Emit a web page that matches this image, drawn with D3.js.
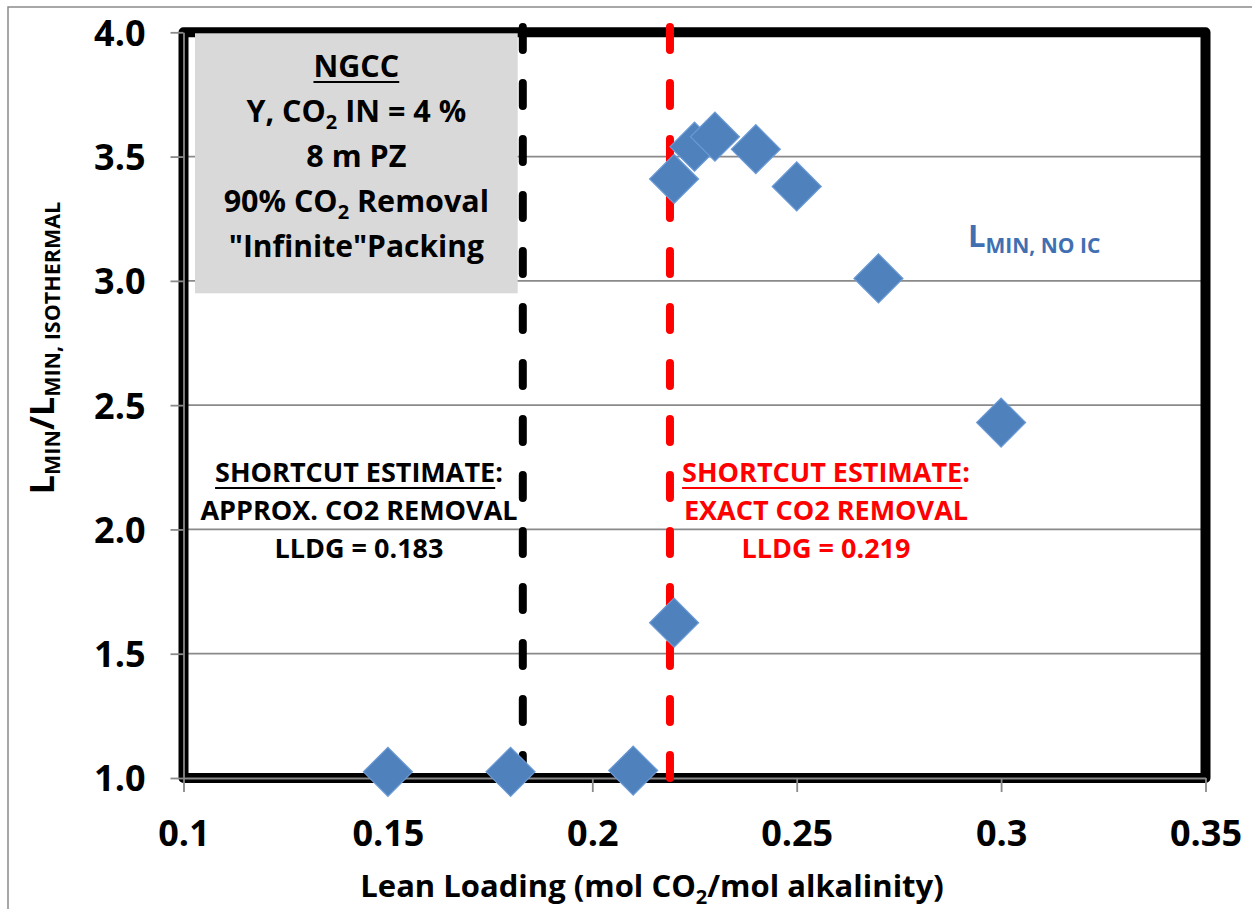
<!DOCTYPE html>
<html>
<head>
<meta charset="utf-8">
<script src="https://cdn.jsdelivr.net/npm/d3@7/dist/d3.min.js"></script>
<style>
  html, body { margin: 0; padding: 0; background: #fff; }
  svg { display: block; font-family: "Open Sans", Lato, sans-serif; font-weight: bold; }
</style>
</head>
<body>
<svg id="chart" width="1252" height="909"></svg>
<script>
// Axis ticks
const xTickValues = [0.1, 0.15, 0.2, 0.25, 0.3, 0.35];
const xTickLabels = ["0.1", "0.15", "0.2", "0.25", "0.3", "0.35"];
const yTickValues = [1.0, 1.5, 2.0, 2.5, 3.0, 3.5, 4.0];
const yTickLabels = ["1.0", "1.5", "2.0", "2.5", "3.0", "3.5", "4.0"];

// L_MIN, NO IC series (lean loading vs. L_MIN / L_MIN,isothermal)
const leanLoading = [0.15, 0.18, 0.21, 0.225, 0.22, 0.22, 0.23, 0.24, 0.25, 0.27, 0.30];
const lMinRatio   = [1.025, 1.025, 1.03, 3.54, 3.41, 1.625, 3.58, 3.53, 3.38, 3.01, 2.43];

// Shortcut-estimate lean loadings (approx. and exact CO2 removal)
const shortcutNames = ["approx", "exact"];
const shortcutLLDG = [0.183, 0.219];
const shortcutColors = ["#000000", "#ff0000"];

const FONT = "'Open Sans', Lato, sans-serif";
const svg = d3.select("#chart");
const W = 1252, H = 909;

svg.append("rect").attr("width", W).attr("height", H).attr("fill", "#fff");
// outer chart-area frame
svg.append("rect").attr("x", 8).attr("y", 7).attr("width", W + 20).attr("height", H + 20)
  .attr("fill", "none").attr("stroke", "#8a8a8a").attr("stroke-width", 1.5);

const x = d3.scaleLinear().domain([0.1, 0.35]).range([183.5, 1205.5]);
const y = d3.scaleLinear().domain([1, 4]).range([778, 32.3]);

const gridColor = "#8a8a8a";

// horizontal gridlines
svg.append("g").selectAll("line")
  .data(yTickValues.filter(v => v > 1 && v < 4))
  .join("line")
  .attr("x1", x(0.1)).attr("x2", x(0.35))
  .attr("y1", d => y(d)).attr("y2", d => y(d))
  .attr("stroke", gridColor).attr("stroke-width", 1.8);

// heavy black frame around the plot
svg.append("rect")
  .attr("x", x(0.1)).attr("y", y(4))
  .attr("width", x(0.35) - x(0.1)).attr("height", y(1) - y(4))
  .attr("fill", "none").attr("stroke", "#000").attr("stroke-width", 10)
  .attr("stroke-linejoin", "round");

// axes
const xAxis = svg.append("g").attr("transform", `translate(0,${y(1)})`)
  .call(d3.axisBottom(x).tickValues(xTickValues).tickSize(14).tickSizeOuter(0)
    .tickFormat((d, i) => xTickLabels[i]));
const yAxis = svg.append("g").attr("transform", `translate(${x(0.1)},0)`)
  .call(d3.axisLeft(y).tickValues(yTickValues).tickSize(13).tickSizeOuter(0)
    .tickFormat((d, i) => yTickLabels[i]));

[xAxis, yAxis].forEach(g => {
  g.select(".domain").attr("stroke", gridColor).attr("stroke-width", 1.8);
  g.selectAll(".tick line").attr("stroke", gridColor).attr("stroke-width", 1.8);
  g.selectAll(".tick text").attr("fill", "#000")
    .style("font-family", FONT)
    .style("font-weight", "bold").style("font-size", "36px");
});
xAxis.selectAll(".tick text").attr("y", 68).attr("dy", 0);
yAxis.selectAll(".tick text").attr("x", -38).attr("dy", "0.36em");

// condition box
const box = { x0: 195, x1: 517.7, y0: 33.3, y1: 293.3 };
svg.append("rect").attr("x", box.x0).attr("y", box.y0)
  .attr("width", box.x1 - box.x0).attr("height", box.y1 - box.y0)
  .attr("fill", "#d9d9d9");

// dashed shortcut lines
svg.append("g").selectAll("line")
  .data(shortcutLLDG)
  .join("line")
  .attr("x1", d => x(d)).attr("x2", d => x(d))
  .attr("y1", y(1)).attr("y2", y(4) - 6)
  .attr("stroke", (d, i) => shortcutColors[i])
  .attr("stroke-width", 8)
  .attr("stroke-linecap", "round")
  .attr("stroke-dasharray", "23 33");

// diamond markers
const diamond = d3.symbol().type(d3.symbolSquare).size(1200);
svg.append("g").selectAll("path")
  .data(leanLoading.map((v, i) => [v, lMinRatio[i]]))
  .join("path")
  .attr("d", diamond)
  .attr("transform", d => `translate(${x(d[0])},${y(d[1])}) rotate(45)`)
  .attr("fill", "#4f81bd").attr("stroke", "#6a9ad6").attr("stroke-width", 1.2);

// helper: text line made of [string, size, baseline shift] parts
function richText(parent, cx, by, parts, color, anchor) {
  const t = parent.append("text").attr("x", cx).attr("y", by)
    .attr("text-anchor", anchor || "middle").attr("fill", color)
    .style("font-family", FONT).style("font-weight", "bold");
  parts.forEach(p => {
    t.append("tspan").text(p[0]).style("font-size", p[1] + "px")
      .attr("dy", p[2] || 0);
  });
  return t;
}

// underline the first n characters of a text element
function underline(t, n, offset, color) {
  const node = t.node();
  const start = node.getStartPositionOfChar(0);
  const end = node.getEndPositionOfChar(n - 1);
  svg.append("line").attr("x1", start.x).attr("x2", end.x)
    .attr("y1", start.y + offset).attr("y2", start.y + offset)
    .attr("stroke", color).attr("stroke-width", 2.2);
}

// box text
const bcx = (box.x0 + box.x1) / 2;
const tN = richText(svg, bcx, 77, [["NGCC", 30.5]], "#000");
underline(tN, 4, 5, "#000");
richText(svg, bcx, 122, [["Y, CO", 30.5], ["2", 20, 7], [" IN = 4 %", 30.5, -7]], "#000");
richText(svg, bcx, 167, [["8 m PZ", 30.5]], "#000");
richText(svg, bcx, 212, [["90% CO", 30.5], ["2", 20, 7], [" Removal", 30.5, -7]], "#000");
richText(svg, bcx, 257, [["\"Infinite\"Packing", 30]], "#000");

// shortcut annotations
const annot = [
  { cx: 359, color: "#000", lines: ["APPROX. CO2 REMOVAL", "LLDG = 0.183"] },
  { cx: 826, color: "#ff0000", lines: ["EXACT CO2 REMOVAL", "LLDG = 0.219"] }
];
annot.forEach(a => {
  const t0 = richText(svg, a.cx, 482, [["SHORTCUT ESTIMATE:", 27]], a.color);
  underline(t0, 17, 6, a.color);
  richText(svg, a.cx, 520, [[a.lines[0], 27]], a.color);
  richText(svg, a.cx, 558, [[a.lines[1], 27]], a.color);
});

// series label
richText(svg, 968, 247, [["L", 31], ["MIN, NO IC", 21, 6]], "#4170b2", "start");

// axis titles
richText(svg, 652, 897, [["Lean Loading (mol CO", 31], ["2", 20, 7], ["/mol alkalinity)", 31, -7]], "#000");
const yt = svg.append("g").attr("transform", "translate(54,348) rotate(-90)");
richText(yt, 0, 0, [["L", 34], ["MIN", 21.5, 6], ["/L", 34, -6], ["MIN, ISOTHERMAL", 21.5, 6]], "#000");
</script>
</body>
</html>
